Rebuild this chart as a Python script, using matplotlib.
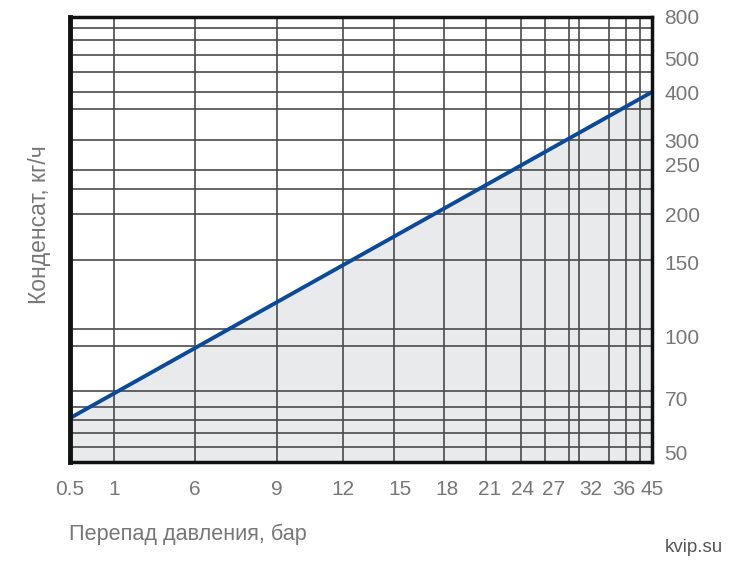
import numpy as np
import matplotlib
matplotlib.use("Agg")
import matplotlib.pyplot as plt

# x axis: pressure drop (bar); non-uniform scale anchored on the printed labels
x_ticks = [0.5, 1, 6, 9, 12, 15, 18, 21, 24, 27, 32, 36, 45]
x_pos = [70, 114, 195, 277, 343, 400, 447, 490, 523, 554, 591, 624, 652]
x_grid = [1, 6, 9, 12, 14.7, 17.8, 20.7, 23.8, 26.1, 29.0, 30.4, 34.2, 36.6, 41.1]

# y axis: condensate (kg/h); non-uniform scale anchored on the printed labels
y_ticks = [50, 70, 100, 150, 200, 250, 300, 400, 500, 800]
y_vals = [46.3] + y_ticks
y_pos = [462, 452, 399, 337, 263, 214, 165, 140, 92, 58, 17]
y_grid = [52, 57.2, 62.1, 67, 74, 95.6, 105.4, 153, 200, 225.5, 245,
          300, 365, 400, 459, 522, 635, 720]

# capacity line
dp = [0.5, 45]
flow = [62.8, 400]

xv = np.array(x_ticks, float)
xp = np.array(x_pos, float)
yv = np.array(y_vals, float)
yp = 462 - np.array(y_pos, float)


def fx(v):
    return np.interp(v, xv, xp)


def fx_inv(p):
    return np.interp(p, xp, xv)


def fy(v):
    return np.interp(v, yv, yp)


def fy_inv(p):
    return np.interp(p, yp, yv)


plt.rcParams['font.family'] = ['Liberation Sans', 'DejaVu Sans']

fig = plt.figure(figsize=(7.45, 5.74), dpi=100)
ax = fig.add_axes([70 / 745, 112 / 574, 582 / 745, 445 / 574])
ax.set_xscale('function', functions=(fx, fx_inv))
ax.set_yscale('function', functions=(fy, fy_inv))
ax.set_xlim(0.5, 45)
ax.set_ylim(46.3, 800)

ax.fill_between(dp, flow, 46.3, color="#e9eaec", zorder=1, lw=0)
for g in x_grid:
    ax.axvline(g, color="#4a4a4a", lw=1.2, zorder=2)
for g in y_grid:
    ax.axhline(g, color="#4a4a4a", lw=1.2, zorder=2)
ax.plot(dp, flow, color="#0b4a9b", lw=2.8, zorder=3, solid_capstyle="butt")

for s in ax.spines.values():
    s.set_linewidth(2.5)
    s.set_color("#111111")
    s.set_zorder(4)
ax.spines["left"].set_linewidth(3.5)

ax.set_xticks(x_ticks)
ax.set_xticklabels([f"{t:g}" for t in x_ticks])
ax.set_yticks(y_ticks)
ax.set_yticklabels([str(t) for t in y_ticks])
ax.xaxis.set_minor_locator(matplotlib.ticker.NullLocator())
ax.yaxis.set_minor_locator(matplotlib.ticker.NullLocator())
ax.yaxis.tick_right()
ax.tick_params(axis="both", length=0, labelsize=15, colors="#777777")
ax.tick_params(axis="x", pad=13)
ax.tick_params(axis="y", pad=9)

fig.text(40 / 745, 1 - 225 / 574, "Конденсат, кг/ч", rotation=90,
         ha="center", va="center", fontsize=16.5, color="#777777")
fig.text(69 / 745, 1 - 534 / 574, "Перепад давления, бар",
         ha="left", va="center", fontsize=15.6, color="#777777")
fig.text(723 / 745, 1 - 547 / 574, "kvip.su",
         ha="right", va="center", fontsize=13.5, color="#555555")

fig.savefig("out.png", dpi=100)
